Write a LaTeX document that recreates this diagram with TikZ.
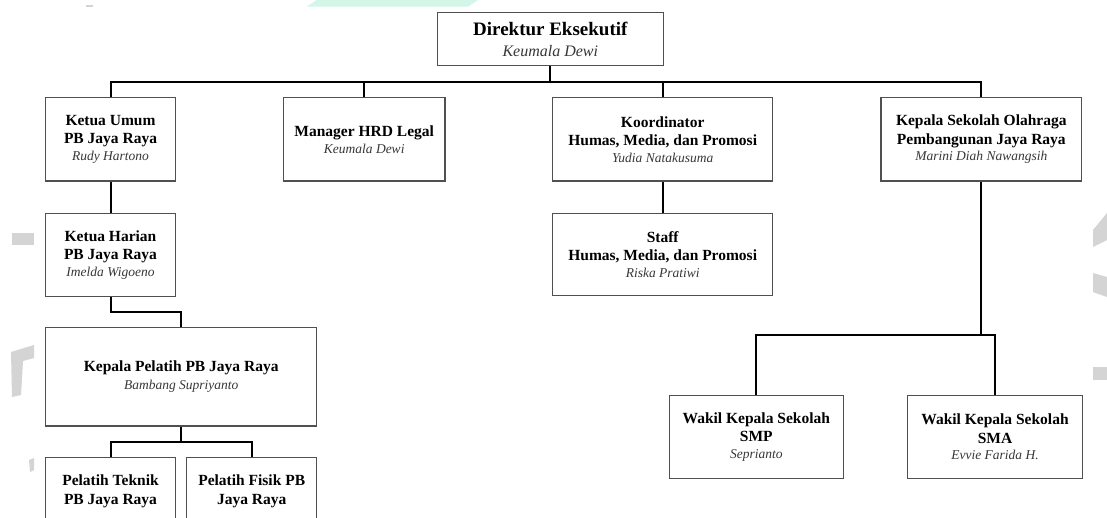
\documentclass[tikz,border=0pt]{standalone}
\usepackage{fontspec}
\setmainfont{Liberation Serif}
\definecolor{boxline}{RGB}{80,80,80}
\definecolor{namecol}{RGB}{55,55,55}
\definecolor{wmgrey}{RGB}{212,212,212}
\definecolor{wmteal}{RGB}{212,246,233}
\newcommand{\nm}[1]{{\mdseries\itshape\fontsize{13.5}{16.7}\selectfont\color{namecol}#1}}
\tikzset{
  orgbox/.style={draw=boxline, line width=1.3pt, fill=white, inner sep=0pt, align=center,
    font=\bfseries\fontsize{15.5}{18.3}\selectfont},
  conn/.style={draw=black, line width=2pt},
  wm/.style={fill=wmgrey, draw=none}
}
\begin{document}
\begin{tikzpicture}[x=1pt,y=-1pt]
\useasboundingbox (0,0) rectangle (1107,517);
\clip (0,0) rectangle (1107,517);
\fill[white] (0,0) rectangle (1107,517);
% faint watermark remnants
\fill[wmteal] (306.7,6.7) -- (316.7,0) -- (478,0) -- (468,6.7) -- cycle;
\fill[wm] (86,5) rectangle (93,7);
\fill[wm] (12,233) rectangle (34,245);
\fill[wm] (11,352) -- (34,345) -- (34,358) -- (23,361) -- (21,395) -- (12,397) -- cycle;
\fill[wm] (29,460) -- (34,458) -- (34,470) -- (30,472) -- cycle;
\fill[wm] (1093,230) -- (1107,213) -- (1107,240) -- (1093,247) -- cycle;
\fill[wm] (1093,273) -- (1107,277) -- (1107,297) -- (1093,292) -- cycle;
\fill[wm] (1093,367) rectangle (1107,380);

% nodes
\node[orgbox, minimum width=226pt, minimum height=53pt,
  font=\bfseries\fontsize{19}{20.6}\selectfont] (dir) at (550.3,39.2)
  {Direktur Eksekutif\\{\mdseries\itshape\fontsize{16}{20}\selectfont\color{namecol}Keumala Dewi}};

\node[orgbox, minimum width=129.6pt, minimum height=83.3pt] (ku) at (110.5,139.4)
  {Ketua Umum\\PB Jaya Raya\\[-1.6pt]\nm{Rudy Hartono}};
\node[orgbox, minimum width=161.7pt, minimum height=83.3pt] (hrd) at (364.2,139.4)
  {Manager HRD Legal\\[-1.6pt]\nm{Keumala Dewi}};
\node[orgbox, minimum width=220pt, minimum height=83.3pt] (kor) at (662.7,139.4)
  {Koordinator\\Humas, Media, dan Promosi\\[-1.6pt]\nm{Yudia Natakusuma}};
\node[orgbox, minimum width=200.7pt, minimum height=83.3pt] (ks) at (981.3,139.4)
  {Kepala Sekolah Olahraga\\Pembangunan Jaya Raya\\[-1.6pt]\nm{Marini Diah Nawangsih}};

\node[orgbox, minimum width=129.6pt, minimum height=83.4pt] (kh) at (110.5,255)
  {Ketua Harian\\PB Jaya Raya\\[-1.6pt]\nm{Imelda Wigoeno}};
\node[orgbox, minimum width=220pt, minimum height=82.4pt] (st) at (662.7,254.5)
  {Staff\\Humas, Media, dan Promosi\\[-1.6pt]\nm{Riska Pratiwi}};

\node[orgbox, minimum width=271pt, minimum height=98.3pt] (kp) at (181.2,376.8)
  {Kepala Pelatih PB Jaya Raya\\[-0.6pt]\nm{Bambang Supriyanto}};

\node[orgbox, minimum width=129.6pt, minimum height=68pt] (pt) at (110.5,491.3)
  {Pelatih Teknik\\PB Jaya Raya};
\node[orgbox, minimum width=130pt, minimum height=68pt] (pf) at (251.7,491.3)
  {Pelatih Fisik PB\\Jaya Raya};

\node[orgbox, minimum width=174pt, minimum height=83pt] (smp) at (756.3,437.2)
  {Wakil Kepala Sekolah\\SMP\\[-1.6pt]\nm{Seprianto}};
\node[orgbox, minimum width=174.6pt, minimum height=83pt] (sma) at (995,437.2)
  {Wakil Kepala Sekolah\\SMA\\[-1.6pt]\nm{Evvie Farida H.}};

% connectors
\coordinate (busy) at (0,82);
\draw[conn] (dir.south) -- (dir.south |- busy);
\draw[conn] (ku.north) |- (ks.north |- busy) -- (ks.north);
\draw[conn] (hrd.north) -- (hrd.north |- busy);
\draw[conn] (kor.north) -- (kor.north |- busy);

\draw[conn] (ku.south) -- (kh.north);
\coordinate (khy) at (0,312.3);
\draw[conn] (kh.south) -- (kh.south |- khy) -| (kp.north);

\coordinate (kpy) at (0,441.7);
\draw[conn] (kp.south) -- (kp.south |- kpy);
\draw[conn] (pt.north) |- (pf.north |- kpy) -- (pf.north);

\draw[conn] (kor.south) -- (st.north);

\coordinate (ksy) at (0,335);
\draw[conn] (ks.south) -- (ks.south |- ksy);
\draw[conn] (smp.north) |- (sma.north |- ksy) -- (sma.north);
\end{tikzpicture}
\end{document}
